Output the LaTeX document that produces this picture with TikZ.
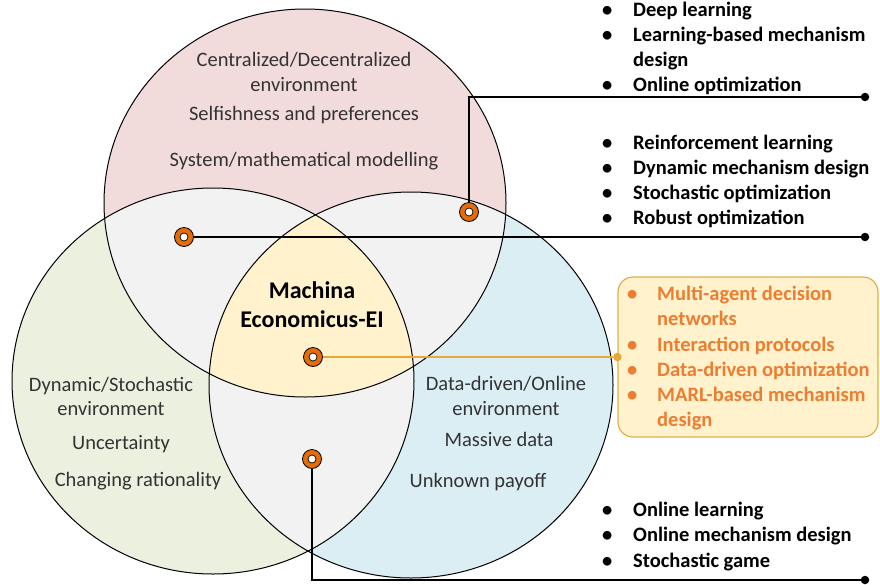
\documentclass[tikz,border=0pt]{standalone}
\usepackage{fontspec}
\setmainfont{Carlito}
\usetikzlibrary{calc}
\definecolor{pinkF}{HTML}{F2DCDB}
\definecolor{greenF}{HTML}{EBF1DE}
\definecolor{blueF}{HTML}{DBEEF4}
\definecolor{greyF}{HTML}{F2F2F2}
\definecolor{yelF}{HTML}{FFF2CC}
\definecolor{mkOrange}{HTML}{E46C0A}
\definecolor{txtOrange}{HTML}{ED7D31}
\definecolor{lineGold}{HTML}{E8A838}
\definecolor{boxGold}{HTML}{DDB04A}
\definecolor{txtGrey}{HTML}{333333}
\def\CircTop{(305,203) ellipse [x radius=201pt, y radius=194pt]}
\def\CircLeft{(213,381) ellipse [x radius=201pt, y radius=193pt]}
\def\CircRight{(411,385) ellipse [x radius=202pt, y radius=193pt]}
\tikzset{
  ring/.style={circle, draw=black, line width=0.8pt, fill=mkOrange, minimum size=19pt, inner sep=0pt,
    path picture={\draw[black, line width=0.7pt, fill=white] (path picture bounding box.center) circle (4pt);}},
  enddot/.style={circle, fill=black, minimum size=8.5pt, inner sep=0pt},
  odot/.style={circle, fill=lineGold, minimum size=8.5pt, inner sep=0pt},
  conn/.style={black, line width=1.2pt},
  oconn/.style={lineGold, line width=1.5pt},
  ctext/.style={font=\fontsize{20.5}{25}\selectfont, text=txtGrey, align=center, inner sep=0pt, anchor=base},
  listnode/.style={font=\fontsize{20.5}{25.2}\selectfont\bfseries, inner sep=0pt, anchor=base west, text=black},
}
\begin{document}
\begin{tikzpicture}[x=1pt,y=-1pt]
\useasboundingbox (0,0) rectangle (880,584);
% fills
\fill[pinkF] \CircTop;
\fill[greenF] \CircLeft;
\fill[blueF] \CircRight;
\begin{scope}\clip \CircTop; \fill[greyF] \CircLeft; \fill[greyF] \CircRight; \end{scope}
\begin{scope}\clip \CircLeft; \fill[greyF] \CircRight; \end{scope}
\begin{scope}\clip \CircTop; \clip \CircLeft; \fill[yelF] \CircRight; \end{scope}
\draw[line width=1pt] \CircTop;
\draw[line width=1pt] \CircLeft;
\draw[line width=1pt] \CircRight;

% circle texts (multi-line nodes: base = last line baseline)
\node[ctext] (t1) at (304,91.7) {Centralized/Decentralized\\environment};
\node[ctext] (t2) at (304,120) {Selfishness and preferences};
\node[ctext] (t3) at (304,166.7) {System/mathematical modelling};
\node[ctext, font=\fontsize{20.5}{23.5}\selectfont] (g1) at (111,415) {Dynamic/Stochastic\\environment};
\node[ctext] (g2) at (121,449.3) {Uncertainty};
\node[ctext] (g3) at (138,486.7) {Changing rationality};
\node[ctext, font=\fontsize{20.5}{24.3}\selectfont] (b1) at (506,415) {Data-driven/Online\\environment};
\node[ctext] (b2) at (499,446.7) {Massive data};
\node[ctext] (b3) at (478,487.3) {Unknown payoff};
\node[ctext, font=\fontsize{24}{29}\selectfont\bfseries, text=black] (ctr) at (312,327.3) {Machina\\Economicus-EI};

% orange box
\node[draw=boxGold, fill=yelF, line width=1.2pt, rounded corners=15pt, minimum width=260pt, minimum height=160pt, inner sep=0pt] (box) at (748,357) {};
\node[listnode, text=txtOrange] (L3) at (627,300.7) {\begin{tabular}[t]{@{}p{30pt}@{}l@{}}\textbullet & Multi-agent decision\\ & networks\\ \textbullet & Interaction protocols\\ \textbullet & Data-driven optimization\\ \textbullet & MARL-based mechanism\\ & design\end{tabular}};

% lists
\node[listnode] (L1) at (602,16) {\begin{tabular}[t]{@{}p{31pt}@{}l@{}}\textbullet & Deep learning\\ \textbullet & Learning-based mechanism\\ & design\\ \textbullet & Online optimization\end{tabular}};
\node[listnode] (L2) at (602,149) {\begin{tabular}[t]{@{}p{31pt}@{}l@{}}\textbullet & Reinforcement learning\\ \textbullet & Dynamic mechanism design\\ \textbullet & Stochastic optimization\\ \textbullet & Robust optimization\end{tabular}};
\node[listnode] (L4) at (602,516.7) {\begin{tabular}[t]{@{}p{31pt}@{}l@{}}\textbullet & Online learning\\ \textbullet & Online mechanism design\\ \textbullet & Stochastic game\end{tabular}};

% markers
\node[ring] (m1) at (469,212) {};
\node[ring] (m2) at (184,237) {};
\node[ring] (m3) at (313,357) {};
\node[ring] (m4) at (312,459) {};

% end dots
\node[enddot] (d1) at (865,97) {};
\node[enddot] (d2) at (865,237) {};
\node[enddot] (d4) at (865,580) {};
\node[odot] (d3) at (box.west) {};

% connectors
\draw[conn] (m1) |- (d1);
\draw[conn] (m2) -- (d2);
\draw[conn] (m4) |- (d4);
\draw[oconn] (m3) -- (d3);
\end{tikzpicture}
\end{document}
